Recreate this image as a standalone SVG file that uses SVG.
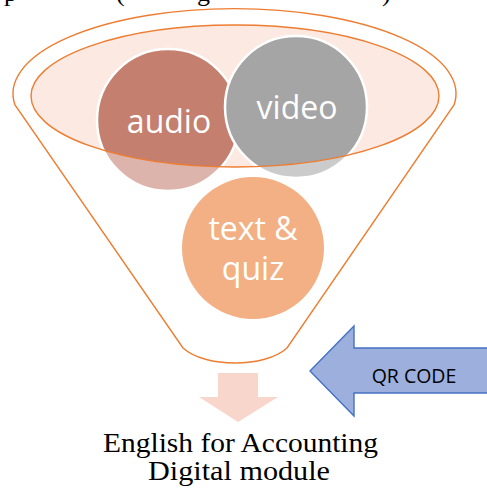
<svg xmlns="http://www.w3.org/2000/svg" width="487" height="488" viewBox="0 0 487 488">
  <defs>
    <style>
      .bubble { stroke: #ffffff; stroke-width: 2.5; }
      .label { font-family: "Open Sans", "Noto Sans", sans-serif; fill: #ffffff; text-anchor: middle; }
      .outline { fill: none; stroke: #ED7D31; stroke-width: 1.4; }
      .serif { font-family: "Liberation Serif", "Times New Roman", serif; fill: #000000; }
    </style>
  </defs>

  <!-- descenders of the text line above the figure -->
  <g id="clipped-line" class="serif" font-size="26">
    <text x="4" y="1">p</text>
    <text x="116" y="1">(</text>
    <text x="197" y="1">g</text>
    <text x="382" y="1">)</text>
  </g>

  <!-- funnel rim fill -->
  <g id="funnel-rim">
    <ellipse cx="235" cy="96" rx="204" ry="71" fill="#FBE9E2"/>
  </g>

  <!-- items dropped into the funnel -->
  <g id="node-audio">
    <circle class="bubble" cx="168" cy="120" r="71" fill="#C47F6E"/>
  </g>
  <g id="node-video">
    <circle class="bubble" cx="296" cy="107" r="71" fill="#A5A5A5"/>
  </g>

  <!-- funnel body: translucent white over everything below the rim -->
  <g id="funnel-body">
    <path fill="#ffffff" fill-opacity="0.42" fill-rule="evenodd"
          d="M15,105 A221.5,85 0 1 1 454,105 L287,348 C265,368 205,368 183,348 Z
             M31,96 A204,71 0 1 0 439,96 A204,71 0 1 0 31,96 Z"/>
    <path class="outline" d="M15,105 A221.5,85 0 1 1 454,105 L287,348 C265,368 205,368 183,348 Z"/>
    <ellipse class="outline" cx="235" cy="96" rx="204" ry="71"/>
  </g>

  <g id="labels-top">
    <text class="label" x="169" y="133" font-size="32">audio</text>
    <text class="label" x="297" y="119" font-size="32">video</text>
  </g>

  <g id="node-text-quiz">
    <circle cx="253" cy="248" r="71" fill="#F2B084"/>
    <text class="label" x="253" y="240" font-size="32">text &amp;</text>
    <text class="label" x="253" y="280" font-size="32">quiz</text>
  </g>

  <g id="connectors">
    <!-- output arrow below the funnel -->
    <path id="arrow-down" d="M218,373 H258 V397 H278 L238,422 L199,397 H218 Z" fill="#F9D6CC"/>
    <!-- input arrow from the right -->
    <g id="arrow-qr">
      <path d="M492,348 H354 V326 L310,371 L354,416 V393 H492 Z" fill="#9DAFDD" stroke="#4472C4" stroke-width="1.4"/>
      <text x="414" y="383" font-family="'Open Sans', 'Noto Sans', sans-serif" font-size="19.5" fill="#000000" text-anchor="middle">QR CODE</text>
    </g>
  </g>

  <g id="caption" class="serif" font-size="28" text-anchor="middle">
    <text x="240.5" y="452" textLength="275" lengthAdjust="spacingAndGlyphs">English for Accounting</text>
    <text x="239" y="480" textLength="182" lengthAdjust="spacingAndGlyphs">Digital module</text>
  </g>
</svg>
